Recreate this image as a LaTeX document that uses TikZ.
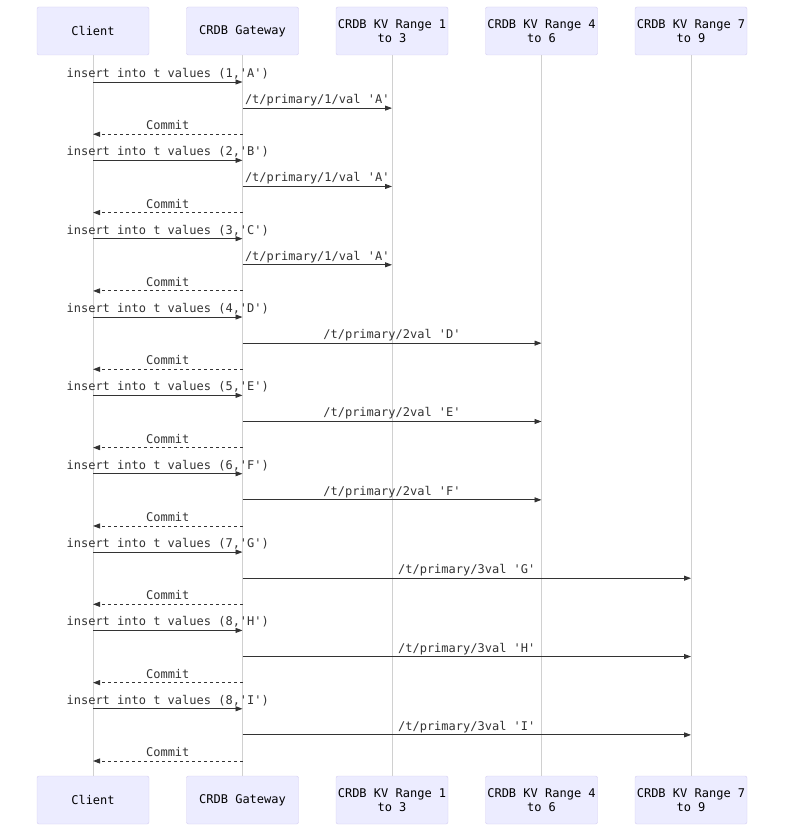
\documentclass[tikz,border=0pt]{standalone}
\usepackage{fontspec}
\setmonofont{DejaVu Sans Mono}
\usetikzlibrary{arrows.meta}
\definecolor{actfill}{HTML}{ECECFF}
\definecolor{actdraw}{HTML}{D4CCF2}
\definecolor{lifegray}{HTML}{D0D0D0}
\definecolor{msgcol}{HTML}{333333}
\tikzset{
  actor/.style={draw=actdraw, fill=actfill, rounded corners=2pt, minimum width=112pt, minimum height=48pt, inner sep=0pt, align=center, font=\ttfamily\fontsize{12}{14}\selectfont, text=black},
  lifeline/.style={draw=lifegray, line width=0.9pt},
  msg/.style={draw=msgcol, line width=0.9pt, -{Triangle[length=7pt,width=5pt]}},
  reply/.style={msg, dash pattern=on 3pt off 3pt},
  lbl/.style={anchor=base, inner sep=0pt, font=\ttfamily\fontsize{12}{14}\selectfont, text=msgcol}
}
\begin{document}
\begin{tikzpicture}[x=1pt,y=-1pt]
\useasboundingbox (0,0) rectangle (784,826);
% actors top
\node[actor] (ta) at (93,31) {Client};
\node[actor] (tb) at (242.5,31) {CRDB Gateway};
\node[actor] (tc) at (392,31) {CRDB KV Range 1\\to 3};
\node[actor] (td) at (541.5,31) {CRDB KV Range 4\\to 6};
\node[actor] (te) at (691,31) {CRDB KV Range 7\\to 9};
% actors bottom
\node[actor] (ba) at (93,800) {Client};
\node[actor] (bb) at (242.5,800) {CRDB Gateway};
\node[actor] (bc) at (392,800) {CRDB KV Range 1\\to 3};
\node[actor] (bd) at (541.5,800) {CRDB KV Range 4\\to 6};
\node[actor] (be) at (691,800) {CRDB KV Range 7\\to 9};
% lifelines
\begin{scope}[on background layer/.style={}]
\foreach \n in {a,b,c,d,e} \draw[lifeline] (t\n.south) -- (b\n.north);
\end{scope}
% row coordinates
\foreach \k in {0,...,26} {
  \pgfmathsetmacro\yy{82+26.115*\k}
  \foreach \n/\x in {a/93,b/242.5,c/392,d/541.5,e/691} {
    \coordinate (\n\k) at (\x,\yy);
  }
}
% messages
\newcommand\msgline[4]{% from, to, style, label
  \draw[#3] (#1) -- node[lbl, yshift=4.5pt] {#4} (#2);
}
\msgline{a0}{b0}{msg}{insert into t values (1,'A')}
\msgline{b1}{c1}{msg}{/t/primary/1/val 'A'}
\msgline{b2}{a2}{reply}{Commit}
\msgline{a3}{b3}{msg}{insert into t values (2,'B')}
\msgline{b4}{c4}{msg}{/t/primary/1/val 'A'}
\msgline{b5}{a5}{reply}{Commit}
\msgline{a6}{b6}{msg}{insert into t values (3,'C')}
\msgline{b7}{c7}{msg}{/t/primary/1/val 'A'}
\msgline{b8}{a8}{reply}{Commit}
\msgline{a9}{b9}{msg}{insert into t values (4,'D')}
\msgline{b10}{d10}{msg}{/t/primary/2val 'D'}
\msgline{b11}{a11}{reply}{Commit}
\msgline{a12}{b12}{msg}{insert into t values (5,'E')}
\msgline{b13}{d13}{msg}{/t/primary/2val 'E'}
\msgline{b14}{a14}{reply}{Commit}
\msgline{a15}{b15}{msg}{insert into t values (6,'F')}
\msgline{b16}{d16}{msg}{/t/primary/2val 'F'}
\msgline{b17}{a17}{reply}{Commit}
\msgline{a18}{b18}{msg}{insert into t values (7,'G')}
\msgline{b19}{e19}{msg}{/t/primary/3val 'G'}
\msgline{b20}{a20}{reply}{Commit}
\msgline{a21}{b21}{msg}{insert into t values (8,'H')}
\msgline{b22}{e22}{msg}{/t/primary/3val 'H'}
\msgline{b23}{a23}{reply}{Commit}
\msgline{a24}{b24}{msg}{insert into t values (8,'I')}
\msgline{b25}{e25}{msg}{/t/primary/3val 'I'}
\msgline{b26}{a26}{reply}{Commit}
\end{tikzpicture}
\end{document}
